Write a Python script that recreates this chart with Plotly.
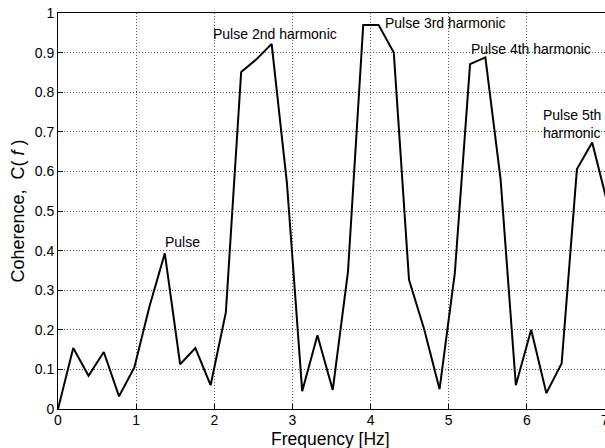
import plotly.graph_objects as go

freq_hz = [0.0, 0.195, 0.391, 0.586, 0.781, 0.977, 1.172, 1.367, 1.563, 1.758,
           1.953, 2.148, 2.344, 2.539, 2.734, 2.930, 3.125, 3.320, 3.516, 3.711,
           3.906, 4.102, 4.297, 4.492, 4.688, 4.883, 5.078, 5.273, 5.469, 5.664,
           5.859, 6.055, 6.250, 6.445, 6.641, 6.836, 7.031]
coherence = [0.0, 0.154, 0.084, 0.144, 0.032, 0.105, 0.26, 0.393, 0.113, 0.154,
             0.06, 0.244, 0.851, 0.883, 0.922, 0.57, 0.045, 0.186, 0.048, 0.347,
             0.97, 0.97, 0.90, 0.326, 0.20, 0.05, 0.343, 0.871, 0.888, 0.58,
             0.06, 0.20, 0.04, 0.115, 0.606, 0.673, 0.52]

x_ticks = [0, 1, 2, 3, 4, 5, 6, 7]
y_ticks = [0, 0.1, 0.2, 0.3, 0.4, 0.5, 0.6, 0.7, 0.8, 0.9, 1.0]
y_tick_text = ["0", "0.1", "0.2", "0.3", "0.4", "0.5", "0.6", "0.7", "0.8", "0.9", "1"]

labels = ["Pulse", "Pulse 2nd harmonic", "Pulse 3rd harmonic", "Pulse 4th harmonic",
          "Pulse 5th<br>harmonic"]
label_x = [1.587, 2.777, 4.96, 6.053, 6.578]
label_y = [0.422, 0.947, 0.974, 0.909, 0.719]

FONT = "Liberation Sans, Arial, sans-serif"

fig = go.Figure()
fig.add_trace(go.Scatter(x=freq_hz, y=coherence, mode="lines",
                         line=dict(color="black", width=2), showlegend=False))

for t, x, y in zip(labels, label_x, label_y):
    fig.add_annotation(x=x, y=y, text=t, showarrow=False, xanchor="center",
                       yanchor="middle", align="left",
                       font=dict(family=FONT, size=14, color="black"))

# x-axis title placed just below the tick labels
fig.add_annotation(xref="paper", yref="paper", x=0.499, y=-0.077, text="Frequency [Hz]",
                   showarrow=False, xanchor="center", yanchor="middle",
                   font=dict(family=FONT, size=17.5, color="black"))

axis_common = dict(showline=True, linecolor="black", linewidth=1, mirror=True,
                   ticks="inside", ticklen=5, tickcolor="black",
                   showgrid=True, gridcolor="#555555", griddash="1px,2px", gridwidth=1,
                   zeroline=False, ticklabeloverflow="allow",
                   tickfont=dict(family=FONT, size=14, color="black"))

fig.update_xaxes(range=[0, 7], tickvals=x_ticks, ticktext=[str(v) for v in x_ticks],
                 ticklabelstandoff=-2, **axis_common)
fig.update_yaxes(range=[0, 1], tickvals=y_ticks, ticktext=y_tick_text,
                 title=dict(text="Coherence,  C( <i>f</i> )", standoff=5,
                            font=dict(family=FONT, size=18, color="black")),
                 **axis_common)

fig.update_layout(width=605, height=448, plot_bgcolor="white", paper_bgcolor="white",
                  margin=dict(l=58, r=0, t=13, b=39, autoexpand=False))

fig.write_html("out.html")
